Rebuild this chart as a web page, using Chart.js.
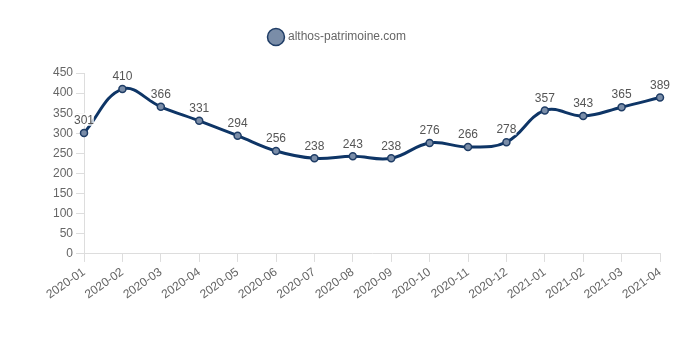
<!DOCTYPE html>
<html>
<head>
<meta charset="utf-8">
<script src="https://cdn.jsdelivr.net/npm/chart.js@4/dist/chart.umd.min.js"></script>
<style>
  html, body { margin: 0; padding: 0; background: #fff; }
  #wrap { width: 680px; height: 340px; }
</style>
</head>
<body>
<div id="wrap"><canvas id="myChart"></canvas></div>
<script>
var months = ['2020-01', '2020-02', '2020-03', '2020-04', '2020-05', '2020-06', '2020-07', '2020-08',
              '2020-09', '2020-10', '2020-11', '2020-12', '2021-01', '2021-02', '2021-03', '2021-04'];
var prices = [301, 410, 366, 331, 294, 256, 238, 243, 238, 276, 266, 278, 357, 343, 365, 389];
var seriesName = 'althos-patrimoine.com';

// value above each point, on a faint white box
var pointValues = {
  id: 'pointValues',
  afterDatasetsDraw: function(chart) {
    var ctx = chart.ctx;
    var meta = chart.getDatasetMeta(0);
    ctx.save();
    ctx.font = '12px "Liberation Sans", Arial, sans-serif';
    ctx.textAlign = 'center';
    ctx.textBaseline = 'bottom';
    meta.data.forEach(function(pt, i) {
      var txt = String(prices[i]);
      var w = ctx.measureText(txt).width;
      ctx.fillStyle = 'rgba(255,255,255,0.75)';
      ctx.fillRect(pt.x - w / 2, pt.y - 20, w, 13);
      ctx.fillStyle = '#555';
      ctx.fillText(txt, pt.x, pt.y - 6);
    });
    ctx.restore();
  }
};

// more room under the legend, and keep it centred on the whole canvas
var legendGap = {
  id: 'legendGap',
  beforeInit: function(chart) {
    var fit = chart.legend.fit;
    chart.legend.fit = function() {
      fit.bind(chart.legend)();
      this.height += 20;
    };
  },
  beforeDraw: function(chart) {
    chart.legend.left = 0;
    chart.legend.right = 676;
  }
};

var ctx = document.getElementById('myChart');
var myChart = new Chart(ctx, {
  type: 'line',
  data: {
    labels: months,
    datasets: [{
      label: seriesName,
      data: prices,
      borderColor: '#0e3566',
      backgroundColor: '#7a8da8',
      borderWidth: 3,
      tension: 0.4,
      fill: false,
      pointRadius: 3.5,
      pointBorderWidth: 1.5,
      pointBorderColor: '#1f3d66',
      pointBackgroundColor: '#7a8da8'
    }]
  },
  options: {
    responsive: true,
    maintainAspectRatio: false,
    animation: false,
    layout: { padding: { left: 50, right: 20, top: 9, bottom: 35 } },
    plugins: {
      legend: {
        display: true,
        position: 'top',
        labels: {
          usePointStyle: true,
          pointStyle: 'circle',
          boxWidth: 16,
          boxHeight: 16,
          color: '#666',
          font: { family: '"Liberation Sans", Arial, sans-serif', size: 12 },
          padding: 22
        }
      },
      tooltip: { enabled: false }
    },
    scales: {
      x: {
        grid: { display: true, drawOnChartArea: false, tickLength: 8, color: '#ddd' },
        border: { color: '#ddd' },
        ticks: {
          color: '#666',
          font: { family: '"Liberation Sans", Arial, sans-serif', size: 12 },
          maxRotation: 35,
          minRotation: 35
        }
      },
      y: {
        min: 0,
        max: 450,
        grid: { display: true, drawOnChartArea: false, tickLength: 8, color: '#ddd' },
        border: { color: '#ddd' },
        ticks: {
          stepSize: 50,
          color: '#666',
          font: { family: '"Liberation Sans", Arial, sans-serif', size: 12 }
        }
      }
    }
  },
  plugins: [pointValues, legendGap]
});
</script>
</body>
</html>
